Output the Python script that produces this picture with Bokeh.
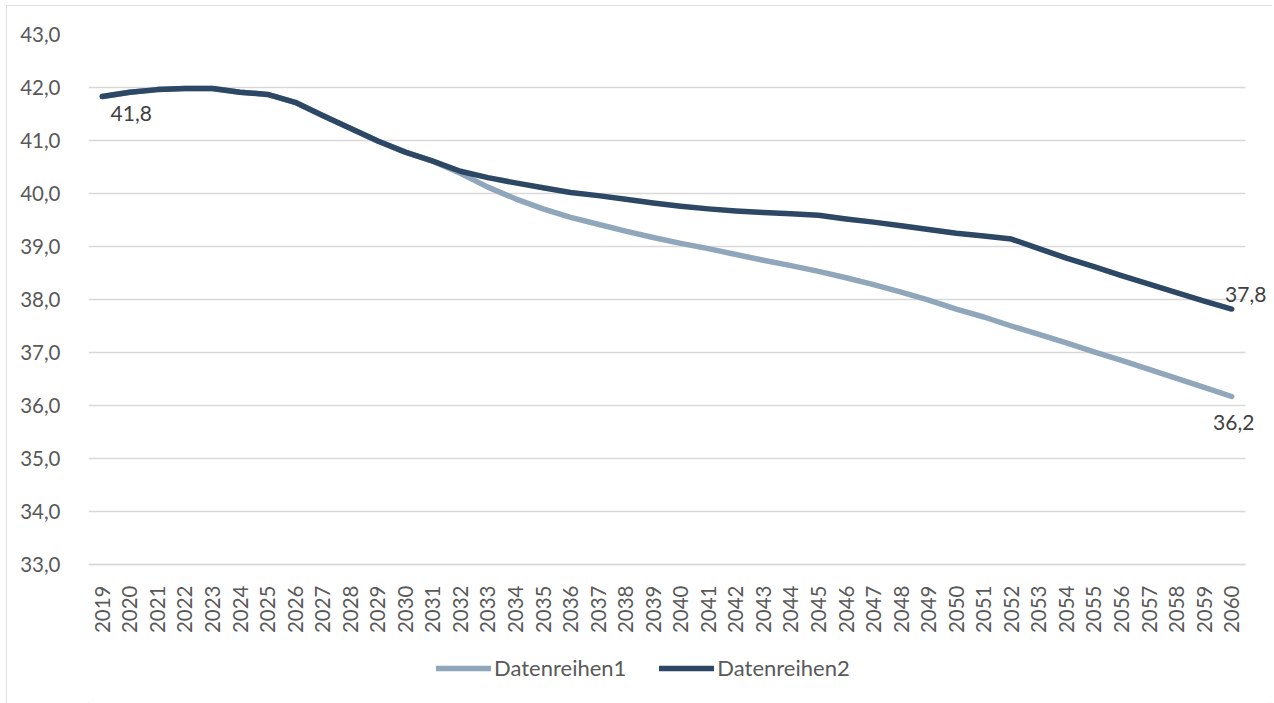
import math
from bokeh.plotting import figure
from bokeh.models import FixedTicker, Legend, LegendItem, Label, Range1d
from bokeh.embed import file_html
from bokeh.resources import INLINE

years = list(range(2019, 2061))

datenreihen1 = [41.83, 41.91, 41.96, 41.98, 41.98, 41.91, 41.87, 41.72, 41.47, 41.23,
                40.99, 40.78, 40.61, 40.38, 40.12, 39.90, 39.71, 39.55, 39.42, 39.29,
                39.17, 39.06, 38.96, 38.85, 38.74, 38.64, 38.53, 38.41, 38.28, 38.14,
                37.99, 37.82, 37.67, 37.50, 37.34, 37.18, 37.01, 36.85, 36.68, 36.51,
                36.34, 36.17]

datenreihen2 = [41.83, 41.91, 41.96, 41.98, 41.98, 41.91, 41.87, 41.72, 41.47, 41.23,
                40.99, 40.78, 40.61, 40.42, 40.30, 40.20, 40.11, 40.02, 39.96, 39.89,
                39.82, 39.76, 39.71, 39.67, 39.64, 39.62, 39.59, 39.52, 39.46, 39.39,
                39.32, 39.25, 39.20, 39.14, 38.96, 38.78, 38.62, 38.45, 38.29, 38.13,
                37.97, 37.82]

series_names = ["Datenreihen1", "Datenreihen2"]
y_ticks = [33, 34, 35, 36, 37, 38, 39, 40, 41, 42, 43]
y_tick_labels = ["33,0", "34,0", "35,0", "36,0", "37,0", "38,0", "39,0", "40,0", "41,0", "42,0", "43,0"]

LIGHT = "#8fa6bb"
DARK = "#2c4864"
FONT = "Lato"
TICK_COLOR = "#595959"

# layout (screen pixels)
PX_PER_YEAR = 1157 / 42
PX_PER_UNIT = 53.0
FRAME_W = 1182
FRAME_H = 669
x_start = years[0] - 0.5
x_end_data = years[-1] + 0.5
x_end_view = x_start + FRAME_W / PX_PER_YEAR
y_end = y_ticks[-1]
y_start_view = y_end - FRAME_H / PX_PER_UNIT


def fmt(v):
    return f"{v:.1f}".replace(".", ",")


p = figure(frame_width=FRAME_W, frame_height=FRAME_H, output_backend="svg",
           toolbar_location=None,
           x_range=Range1d(x_start, x_end_view),
           y_range=Range1d(y_start_view, y_end),
           min_border_left=82, min_border_right=2, min_border_top=29,
           min_border_bottom=0)
p.styles = {"margin-left": "6px", "margin-top": "5px",
            "outline": "1.5px solid #d9d9d9", "outline-offset": "-1.5px"}
p.outline_line_color = None
p.background_fill_color = "white"
p.border_fill_color = "white"

p.xgrid.visible = False
p.ygrid.grid_line_color = "#d9d9d9"
p.ygrid.grid_line_width = 1.5
p.ygrid.ticker = FixedTicker(ticks=y_ticks)
p.ygrid.cross_bounds = (x_start, x_end_data)

p.yaxis.ticker = FixedTicker(ticks=y_ticks)
p.yaxis.major_label_overrides = {t: l for t, l in zip(y_ticks, y_tick_labels)}
p.yaxis.axis_line_color = None
p.yaxis.major_tick_line_color = None
p.yaxis.minor_tick_line_color = None
p.yaxis.major_label_standoff = 22
p.yaxis.major_label_text_font = FONT
p.yaxis.major_label_text_font_size = "20.5px"
p.yaxis.major_label_text_color = TICK_COLOR

p.xaxis.ticker = FixedTicker(ticks=years)
p.xaxis.bounds = (x_start, x_end_data)
p.xaxis.fixed_location = y_ticks[0]
p.xaxis.major_label_overrides = {y: str(y) for y in years}
p.xaxis.major_label_orientation = math.pi / 2
p.xaxis.axis_line_color = "#d9d9d9"
p.xaxis.axis_line_width = 1.5
p.xaxis.major_tick_line_color = None
p.xaxis.minor_tick_line_color = None
p.xaxis.major_label_standoff = 15
p.xaxis.major_label_text_font = FONT
p.xaxis.major_label_text_font_size = "20.5px"
p.xaxis.major_label_text_color = TICK_COLOR

r1 = p.line(years, datenreihen1, line_color=LIGHT, line_width=5.5,
            line_cap="round", line_join="round")
r2 = p.line(years, datenreihen2, line_color=DARK, line_width=5.5,
            line_cap="round", line_join="round")

label_style = dict(text_font=FONT, text_font_size="21px", text_color="#404040",
                   text_align="center", text_baseline="middle")
p.add_layout(Label(x=years[0], y=datenreihen2[0], text=fmt(datenreihen2[0]),
                   x_offset=29, y_offset=-17, **label_style))
p.add_layout(Label(x=years[-1], y=datenreihen2[-1], text=fmt(datenreihen2[-1]),
                   x_offset=14, y_offset=15, **label_style))
p.add_layout(Label(x=years[-1], y=datenreihen1[-1], text=fmt(datenreihen1[-1]),
                   x_offset=2, y_offset=-26, **label_style))

legend = Legend(items=[LegendItem(label=series_names[0], renderers=[r1]),
                       LegendItem(label=series_names[1], renderers=[r2])],
                orientation="horizontal", location=(348, 22),
                border_line_color=None, background_fill_alpha=0,
                label_text_font=FONT, label_text_font_size="22px",
                label_text_color=TICK_COLOR, glyph_width=55, glyph_height=20,
                label_standoff=3, spacing=33, padding=0, margin=0)
p.add_layout(legend, "center")

open("out.html", "w").write(file_html(p, INLINE))
